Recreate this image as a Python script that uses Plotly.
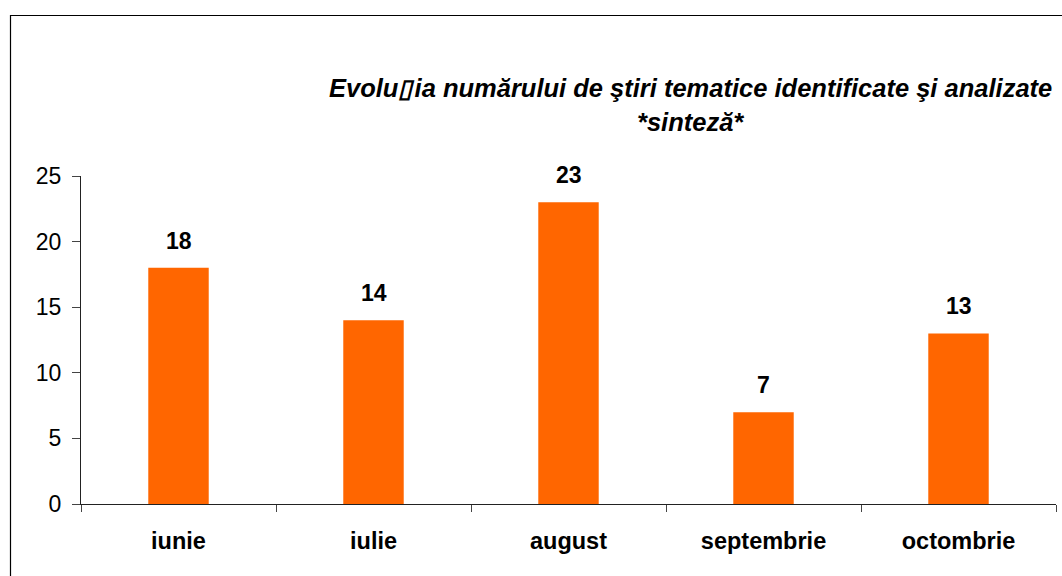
import plotly.graph_objects as go

categories = ["iunie", "iulie", "august", "septembrie", "octombrie"]
values = [18, 14, 23, 7, 13]
title_line1 = "Evolu\u25af\u200aia numărului de ştiri tematice identificate şi analizate"
title_line2 = "*sinteză*"

FONT = "Liberation Sans, Arial, sans-serif"
BAR = "#FF6600"

fig = go.Figure()
fig.add_trace(go.Bar(
    x=categories, y=values, marker=dict(color=BAR, line=dict(width=0)),
    width=0.31, hoverinfo="skip"
))

for c, v in zip(categories, values):
    fig.add_annotation(x=c, y=v, text="<b>%d</b>" % v, showarrow=False,
                       yanchor="bottom", yshift=12,
                       font=dict(family=FONT, size=23, color="black"))

fig.add_annotation(xref="paper", yref="paper", x=(690 - 81) / 975, y=(504 - 88) / 328,
                   text="<b><i>" + title_line1 + "</i></b>", showarrow=False,
                   xanchor="center", yanchor="middle",
                   font=dict(family=FONT, size=25.5, color="black"))
fig.add_annotation(xref="paper", yref="paper", x=(690 - 81) / 975, y=(504 - 122) / 328,
                   text="<b><i>" + title_line2 + "</i></b>", showarrow=False,
                   xanchor="center", yanchor="middle",
                   font=dict(family=FONT, size=25.5, color="black"))

fig.add_shape(type="rect", xref="paper", yref="paper",
              x0=(10.5 - 81) / 975, x1=(1075 - 81) / 975,
              y0=(504 - 600) / 328, y1=(504 - 15.5) / 328,
              line=dict(color="black", width=1.2), fillcolor="rgba(0,0,0,0)", layer="below")

fig.update_layout(
    width=1062, height=576,
    margin=dict(l=81, r=6, t=176, b=72, pad=0),
    paper_bgcolor="white", plot_bgcolor="white",
    showlegend=False,
    bargap=0.69,
    font=dict(family=FONT, size=18, color="black"),
)
fig.update_xaxes(
    type="category", showgrid=False, showline=True, linecolor="#222", linewidth=1,
    ticks="outside", ticklen=7, tickcolor="#444", tickson="boundaries",
    tickfont=dict(family=FONT, size=23.5, color="black", weight="bold"),
    ticklabelstandoff=16, zeroline=False,
)
fig.update_yaxes(
    range=[0, 25], dtick=5, showgrid=False, showline=True, linecolor="#222", linewidth=1,
    ticks="outside", ticklen=8, tickcolor="#444",
    tickfont=dict(family=FONT, size=23, color="black"),
    ticklabelstandoff=6, zeroline=False,
)

fig.write_html("out.html", config={"displayModeBar": False},
               post_script="document.body.style.margin='0';document.body.style.padding='0';")
